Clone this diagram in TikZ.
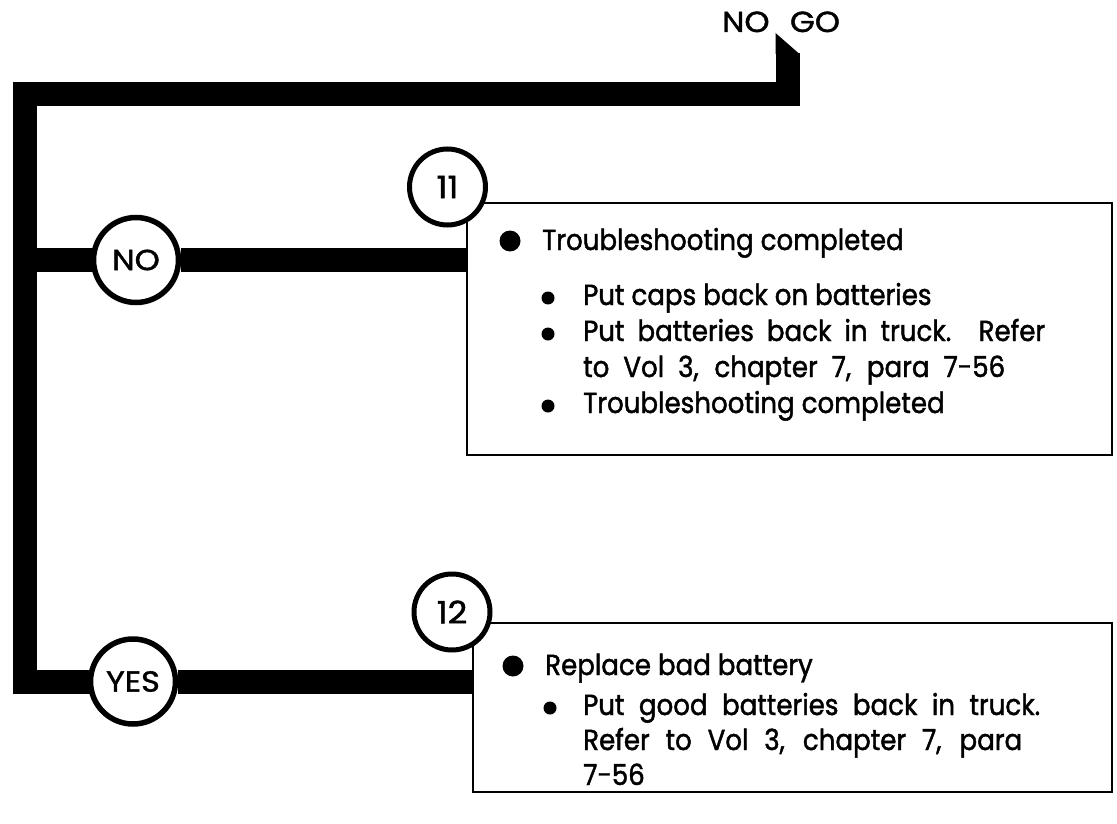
\documentclass[tikz,border=0pt]{standalone}
\usepackage{fontspec}
\setmainfont{Poppins}[FakeStretch=0.9, FakeBold=1.5]
\newfontfamily\labelfont{Poppins}[FakeStretch=1.1, FakeBold=1.5]
\newcommand\fitline[2]{\makebox[#1][s]{#2}}
\begin{document}
\begin{tikzpicture}[x=1pt,y=-1pt,
  bar/.style={line width=24pt, line join=miter, line cap=butt},
  decision/.style={circle, draw, line width=5.5pt, fill=white, minimum size=85pt, inner sep=0pt, font=\labelfont\fontsize{29}{32}\selectfont},
  stepnum/.style={circle, draw, line width=5pt, fill=white, minimum size=76pt, inner sep=0pt, font=\labelfont\fontsize{31}{34}\selectfont},
  actionbox/.style={draw, line width=2.5pt, fill=white, inner sep=0pt},
  txt/.style={anchor=base west, inner sep=0pt, font=\fontsize{29}{32}\selectfont},
  bigdot/.style={circle, fill, inner sep=0pt, minimum size=21pt},
  smalldot/.style={circle, fill, inner sep=0pt, minimum size=13pt}]
\useasboundingbox (0,0) rectangle (1117,824);

% boxes
\node[actionbox, minimum width=645pt, minimum height=252pt] (box1) at (789.5,329) {};
\node[actionbox, minimum width=639pt, minimum height=169pt] (box2) at (792.5,707.5) {};

% positions
\coordinate (nopos) at (136,260);
\coordinate (yespos) at (133,681.5);
\coordinate (stubtop) at (787.5,53);
\coordinate (tl) at (25,94);
\coordinate (bl) at (25,681.5);

% thick bars
\fill (775.5,54) -- (775.5,33) -- (799.5,54) -- cycle;
\draw[bar] (stubtop) |- (tl) -- (bl) -- (yespos);
\draw[bar] (tl |- nopos) -- (nopos);
\node[decision] (no) at (nopos) {NO};
\node[decision] (yes) at (yespos) {YES};
\draw[bar] (no) -- (no -| box1.west);
\draw[bar] (yes) -- (yes -| box2.west);

% step numbers
\node[stepnum] (n11) at (447.5,187) {11};
\node[stepnum] (n12) at (452,612) {12};

% NO GO label
\node[anchor=base, inner sep=0pt, font=\labelfont\fontsize{29}{32}\selectfont] (nogo) at (781,32) {NO\hspace{12pt} GO};

% box 1 text
\node[bigdot] (b1) at (510,241) {};
\node[txt] (t1) at (542,250) {Troubleshooting completed};
\node[smalldot] (s1) at (548,298) {};
\node[txt] (t2) at (583,305) {Put caps back on batteries};
\node[smalldot] (s2) at (548,334) {};
\node[txt] (t3) at (583,341) {\fitline{462pt}{Put batteries back in truck. Refer}};
\node[txt] (t4) at (583,377) {\fitline{422pt}{to Vol 3, chapter 7, para 7-56}};
\node[smalldot] (s3) at (548,406) {};
\node[txt] (t5) at (583,413) {Troubleshooting completed};

% box 2 text
\node[bigdot] (b2) at (513,666) {};
\node[txt] (u1) at (545,675) {Replace bad battery};
\node[smalldot] (s4) at (550,708) {};
\node[txt] (u2) at (583,715) {\fitline{457pt}{Put good batteries back in truck.}};
\node[txt] (u3) at (583,750) {\fitline{439pt}{Refer to Vol 3, chapter 7, para}};
\node[txt] (u4) at (583,785) {7-56};
\end{tikzpicture}
\end{document}
